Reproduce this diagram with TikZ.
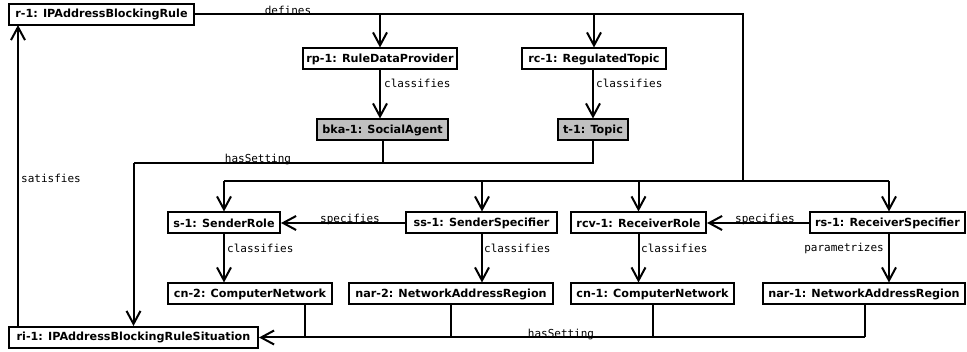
\documentclass[tikz,border=0pt]{standalone}
\usepackage{fontspec}
\setmainfont{DejaVu Sans}
\newfontfamily\boxfont{DejaVu Sans}
\newfontfamily\lblfont{DejaVu Sans Mono}
\usetikzlibrary{arrows.meta}
\definecolor{boxgray}{HTML}{C0C0C0}
\tikzset{
  obj/.style={draw=black, line width=2pt, fill=white, minimum height=21pt, inner sep=0pt,
    font=\boxfont\bfseries\fontsize{11.2}{13}\selectfont, anchor=center},
  grayobj/.style={obj, fill=boxgray},
  conn/.style={line width=2pt},
  arr/.style={conn, -{Straight Barb[length=13pt,width=14pt,line width=2pt]}},
  lbl/.style={font=\lblfont\fontsize{11}{12}\selectfont, inner sep=0pt, anchor=center},
}
\begin{document}
\begin{tikzpicture}[x=1pt,y=-1pt]
\useasboundingbox (0,0) rectangle (967,352);
% nodes
\node[obj, minimum width=185pt] (r1) at (101.5,14.5) {r-1: IPAddressBlockingRule};
\node[obj, minimum width=154pt] (rp1) at (380,59) {rp-1: RuleDataProvider};
\node[obj, minimum width=144pt] (rc1) at (594,59) {rc-1: RegulatedTopic};
\node[grayobj, minimum width=131pt] (bka1) at (382.5,130) {bka-1: SocialAgent};
\node[grayobj, minimum width=70pt] (t1) at (593,130) {t-1: Topic};
\node[obj, minimum width=112pt] (s1) at (224,223) {s-1: SenderRole};
\node[obj, minimum width=151pt] (ss1) at (481.5,223) {ss-1: SenderSpecifier};
\node[obj, minimum width=135pt] (rcv1) at (638.5,223) {rcv-1: ReceiverRole};
\node[obj, minimum width=155pt] (rs1) at (887.5,223) {rs-1: ReceiverSpecifier};
\node[obj, minimum width=164pt] (cn2) at (250,294) {cn-2: ComputerNetwork};
\node[obj, minimum width=204pt] (nar2) at (451,294) {nar-2: NetworkAddressRegion};
\node[obj, minimum width=163pt] (cn1) at (652.5,294) {cn-1: ComputerNetwork};
\node[obj, minimum width=202pt] (nar1) at (864,294) {nar-1: NetworkAddressRegion};
\node[obj, minimum width=249pt] (ri1) at (133.5,337.5) {ri-1: IPAddressBlockingRuleSituation};
% helper coordinates
\coordinate (dtop) at (743,14.5);
\coordinate (dbus) at (743,181);
\coordinate (busL) at (224,181);
\coordinate (busR) at (889,181);
\coordinate (hsL) at (133.5,163);
\coordinate (hsR) at (593,163);
\coordinate (lowR) at (865,337.5);
% defines
\draw[conn] (r1.east) -- (dtop) -- (dbus);
\draw[arr] (rp1.north |- r1.east) -- (rp1.north);
\draw[arr] (rc1.north |- r1.east) -- (rc1.north);
\draw[conn] (busL) -- (busR);
\draw[arr] (busL) -- (s1.north);
\draw[arr] (482,181) -- (482,211.5);
\draw[arr] (rcv1.north |- busL) -- (rcv1.north);
\draw[arr] (busR) -- (busR |- rs1.north);
% classifies
\draw[arr] (rp1.south) -- (rp1.south |- bka1.north);
\draw[arr] (t1.north |- rc1.south) -- (t1.north);
\draw[arr] (s1.south) -- (s1.south |- cn2.north);
\draw[arr] (482,233.5) -- (482,282.5);
\draw[arr] (rcv1.south) -- (rcv1.south |- cn1.north);
\draw[arr] (busR |- rs1.south) -- (busR |- nar1.north);
% specifies
\draw[arr] (ss1.west) -- (s1.east);
\draw[arr] (rs1.west) -- (rcv1.east);
% hasSetting top
\draw[conn] (bka1.south) -- (bka1.south |- hsL);
\draw[conn] (t1.south) -- (hsR) -- (hsL);
\draw[arr] (hsL) -- (ri1.north);
% hasSetting bottom
\draw[conn] (305,304.5) -- (305,337.5);
\draw[conn] (nar2.south) -- (nar2.south |- lowR);
\draw[conn] (cn1.south) -- (cn1.south |- lowR);
\draw[conn] (lowR |- nar1.south) -- (lowR);
\draw[arr] (lowR) -- (ri1.east);
% satisfies
\draw[arr] (18,327) -- (18,25);
% labels
\node[lbl] (ldef) at (288,10.5) {defines};
\node[lbl] (lhs1) at (258,160) {hasSetting};
\node[lbl] (lhs2) at (561,335) {hasSetting};
\node[lbl, anchor=west] (lsat) at (21,178) {satisfies};
\node[lbl, anchor=west] (lc1) at (384,83) {classifies};
\node[lbl, anchor=west] (lc2) at (596,83) {classifies};
\node[lbl] (lsp1) at (350,219.5) {specifies};
\node[lbl] (lsp2) at (765,219.5) {specifies};
\node[lbl, anchor=west] (lc3) at (227,248) {classifies};
\node[lbl, anchor=west] (lc4) at (484,248) {classifies};
\node[lbl, anchor=west] (lc5) at (641,248) {classifies};
\node[lbl, anchor=east] (lpar) at (884,248) {parametrizes};
\end{tikzpicture}
\end{document}
